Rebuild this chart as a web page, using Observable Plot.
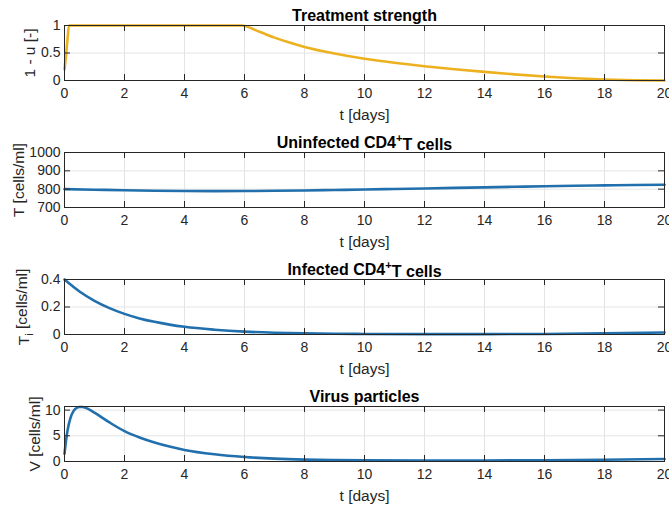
<!DOCTYPE html>
<html><head><meta charset="utf-8">
<script src="https://cdn.jsdelivr.net/npm/d3@7"></script>
<script src="https://cdn.jsdelivr.net/npm/@observablehq/plot@0.6"></script>
<style>
body{margin:0;background:#fff}
#chart svg{display:block}
</style>
</head><body><div id="chart"></div>
<script>
// x axis ticks (days)
const xTicks = [0, 2, 4, 6, 8, 10, 12, 14, 16, 18, 20];

// Panel 1: treatment strength 1 - u
const uT =   [0, 0.05, 0.1, 0.15, 1, 3, 5, 5.9, 6.5, 7, 7.5, 8, 9, 10, 11, 12, 13, 14, 15, 16, 17, 18, 19, 20];
const uVal = [0.2, 0.45, 0.75, 1, 1, 1, 1, 1, 0.885, 0.78, 0.69, 0.61, 0.49, 0.395, 0.322, 0.26, 0.205, 0.157, 0.112, 0.073, 0.04, 0.017, 0.004, 0];
const uTicks = [0, 0.5, 1];

// Panel 2: uninfected CD4+ T cells
const tT =   [0, 1, 2, 3, 4, 5, 6, 7, 8, 9, 10, 11, 12, 13, 14, 15, 16, 17, 18, 19, 20];
const tVal = [800, 797, 794, 791.5, 790, 789.5, 790, 791, 793, 795.5, 798, 801, 804, 807, 810, 813, 816, 818.5, 820.5, 822.5, 824];
const tTicks = [700, 800, 900, 1000];

// Panel 3: infected CD4+ T cells
const iT =   [0, 0.5, 1, 1.5, 2, 2.5, 3, 3.5, 4, 5, 6, 7, 8, 9, 10, 12, 14, 16, 18, 20];
const iVal = [0.4, 0.313, 0.245, 0.192, 0.15, 0.117, 0.092, 0.072, 0.056, 0.035, 0.021, 0.013, 0.008, 0.005, 0.004, 0.003, 0.003, 0.004, 0.008, 0.014];
const iTicks = [0, 0.2, 0.4];

// Panel 4: virus particles
const vT =   [0, 0.05, 0.1, 0.2, 0.3, 0.4, 0.5, 0.6, 0.8, 1, 1.5, 2, 2.5, 3, 3.5, 4, 5, 6, 7, 8, 9, 10, 12, 14, 16, 18, 20];
const vVal = [1.5, 4.0, 6.0, 8.5, 9.8, 10.4, 10.6, 10.6, 10.2, 9.5, 7.6, 5.9, 4.67, 3.7, 2.9, 2.25, 1.4, 0.87, 0.55, 0.37, 0.28, 0.23, 0.2, 0.2, 0.25, 0.35, 0.5];
const vTicks = [0, 5, 10];

const titles = ["Treatment strength", "Uninfected CD4+T cells", "Infected CD4+T cells", "Virus particles"];
const yLabels = ["1 - u [-]", "T [cells/ml]", "Ti [cells/ml]", "V [cells/ml]"];

const YELLOW = "#EDB120", BLUE = "#2170ad", AXC = "#262626";
const FONT = "'Liberation Sans', Arial, Helvetica, sans-serif";

function panel({t, v, color, yDomain, yTicks, title, ylabel, labelOffset}) {
  const W = 669, ML = 64, MR = 5, MT = 25, MB = 47, HT = 127;
  const H = HT - MT - MB, IW = W - ML - MR, TL = 6;
  const data = t.map((d, i) => ({t: d, v: v[i]}));
  const fmt = d => `${d}`;
  const svg = Plot.plot({
    width: W, height: HT, marginLeft: ML, marginRight: MR, marginTop: MT, marginBottom: MB,
    style: {fontFamily: FONT, fontSize: "14px", color: AXC, background: "#fff", overflow: "visible"},
    x: {domain: [0, 20]},
    y: {domain: yDomain},
    marks: [
      Plot.gridX(xTicks, {stroke: "#e4e4e4", strokeOpacity: 1}),
      Plot.gridY(yTicks, {stroke: "#e4e4e4", strokeOpacity: 1}),
      Plot.line(data, {x: "t", y: "v", stroke: color, strokeWidth: 2.6, curve: "monotone-x"}),
      Plot.frame({stroke: AXC, strokeWidth: 1}),
      Plot.tickX(xTicks, {x: d => d, insetBottom: H - TL, stroke: AXC}),
      Plot.tickX(xTicks, {x: d => d, insetTop: H - TL, stroke: AXC}),
      Plot.tickY(yTicks, {y: d => d, insetRight: IW - TL, stroke: AXC}),
      Plot.tickY(yTicks, {y: d => d, insetLeft: IW - TL, stroke: AXC}),
      Plot.axisX(xTicks, {tickSize: 0, tickPadding: 8, tickFormat: fmt, label: "t [days]", labelAnchor: "center", labelArrow: "none", labelOffset: 39, fill: AXC}),
      Plot.axisY(yTicks, {tickSize: 0, tickPadding: 4, tickFormat: fmt, label: ylabel, labelAnchor: "center", labelArrow: "none", labelOffset, fill: AXC}),
      Plot.text([title], {text: d => d, frameAnchor: "top", dy: -5, lineAnchor: "bottom", fontWeight: "bold", fontSize: 16, fill: "#000"})
    ]
  });
  const s = d3.select(svg);
  s.selectAll("[aria-label='x-axis label'] text, [aria-label='y-axis label'] text").attr("font-size", "15.5px");
  // superscript "+" in titles and subscript "i" in label
  s.selectAll("text").each(function() {
    const el = d3.select(this);
    const txt = this.textContent;
    if (txt === "Uninfected CD4+T cells" || txt === "Infected CD4+T cells") {
      const pre = txt.split("+")[0];
      el.text(null);
      el.append("tspan").text(pre);
      el.append("tspan").attr("dy", "-0.45em").attr("font-size", "0.7em").text("+");
      el.append("tspan").attr("dy", "0.45em").text("T cells");
    } else if (txt === "Ti [cells/ml]") {
      el.text(null);
      el.append("tspan").text("T");
      el.append("tspan").attr("dy", "0.35em").attr("font-size", "0.75em").text("i");
      el.append("tspan").attr("dy", "-0.35em").text(" [cells/ml]");
    }
  });
  return svg;
}

const chart = document.getElementById("chart");
chart.append(panel({t: uT, v: uVal, color: YELLOW, yDomain: [0, 1], yTicks: uTicks, title: titles[0], ylabel: yLabels[0], labelOffset: 41}));
chart.append(panel({t: tT, v: tVal, color: BLUE, yDomain: [700, 1000], yTicks: tTicks, title: titles[1], ylabel: yLabels[1], labelOffset: 52}));
chart.append(panel({t: iT, v: iVal, color: BLUE, yDomain: [0, 0.4], yTicks: iTicks, title: titles[2], ylabel: yLabels[2], labelOffset: 47}));
chart.append(panel({t: vT, v: vVal, color: BLUE, yDomain: [0, 10.7], yTicks: vTicks, title: titles[3], ylabel: yLabels[3], labelOffset: 36}));
</script>
</body></html>
